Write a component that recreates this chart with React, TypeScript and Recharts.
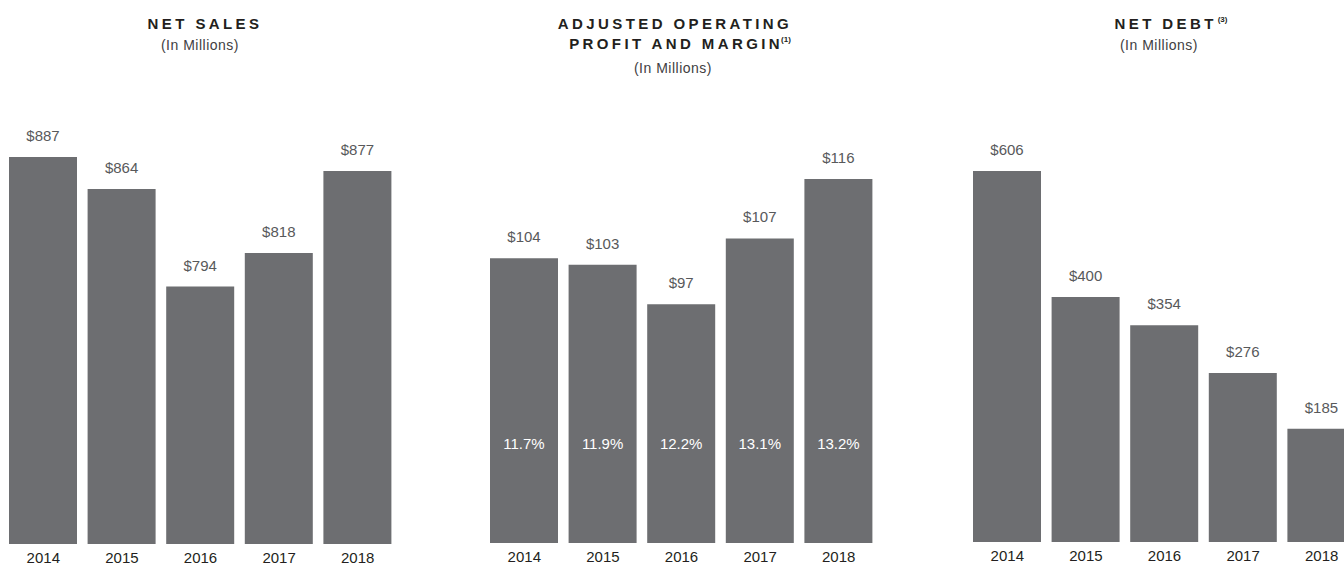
import { BarChart, Bar, XAxis, YAxis, LabelList } from 'recharts';

const years = ['2014', '2015', '2016', '2017', '2018'];
const netSales = [887, 864, 794, 818, 877];
const opProfit = [104, 103, 97, 107, 116];
const opMargin = ['11.7%', '11.9%', '12.2%', '13.1%', '13.2%'];
const netDebt = [606, 400, 354, 276, 185];

const FONT = '"Liberation Sans", Arial, Helvetica, sans-serif';
const BAR = '#6d6e71';
const INK = '#231f20';
const LABEL = '#58595b';

const salesData = years.map((year, i) => ({ year, value: netSales[i] }));
const profitData = years.map((year, i) => ({ year, value: opProfit[i], margin: opMargin[i] }));
const debtData = years.map((year, i) => ({ year, value: netDebt[i] }));

const titleStyle: React.CSSProperties = {
  position: 'absolute',
  fontFamily: FONT,
  fontWeight: 700,
  fontSize: 15,
  letterSpacing: 3.4,
  color: INK,
  textAlign: 'center',
  whiteSpace: 'nowrap',
  lineHeight: '19px',
};

const subStyle: React.CSSProperties = {
  position: 'absolute',
  fontFamily: FONT,
  fontSize: 14,
  letterSpacing: 0.5,
  color: '#414042',
  textAlign: 'center',
  whiteSpace: 'nowrap',
  lineHeight: '16px',
};

const supStyle: React.CSSProperties = {
  fontSize: 8,
  letterSpacing: 0,
  verticalAlign: 'top',
  lineHeight: '12px',
  marginLeft: -2,
};

// white margin % drawn inside the bar, a fixed distance above the baseline
const MarginLabel = (props: any) => {
  const { x, y, width, height, value } = props;
  return (
    <text
      x={x + width / 2}
      y={y + height - 94}
      textAnchor="middle"
      fill="#ffffff"
      fontSize={15}
      fontFamily={FONT}
    >
      {value}
    </text>
  );
};

interface PanelProps {
  data: { year: string; value: number; margin?: string }[];
  left: number;
  marginLeft: number;
  domain: [number, number];
  axisHeight: number;
  showMargin?: boolean;
}

function Panel({ data, left, marginLeft, domain, axisHeight, showMargin }: PanelProps) {
  return (
    <div style={{ position: 'absolute', left, top: 0 }}>
      <BarChart
        width={marginLeft + 393}
        height={567}
        data={data}
        margin={{ top: 100, right: 0, left: marginLeft, bottom: 0 }}
      >
        <XAxis
          dataKey="year"
          axisLine={false}
          tickLine={false}
          height={axisHeight}
          tickMargin={2}
          interval={0}
          tick={{ fontSize: 15, fill: INK, fontFamily: FONT }}
        />
        <YAxis hide type="number" domain={domain} allowDataOverflow />
        <Bar dataKey="value" fill={BAR} barSize={68} isAnimationActive={false}>
          <LabelList
            dataKey="value"
            position="top"
            offset={16}
            formatter={(v: any) => `$${v}`}
            fill={LABEL}
            fontSize={15}
            fontFamily={FONT}
          />
          {showMargin && <LabelList dataKey="margin" content={MarginLabel} />}
        </Bar>
      </BarChart>
    </div>
  );
}

export default function App() {
  return (
    <div
      style={{
        position: 'absolute',
        left: 0,
        top: 0,
        width: 1344,
        height: 567,
        overflow: 'hidden',
        background: '#ffffff',
      }}
    >
      <Panel data={salesData} left={0} marginLeft={4} domain={[609, 928]} axisHeight={23} />
      <Panel data={profitData} left={480} marginLeft={5} domain={[60.8, 128]} axisHeight={24} showMargin />
      <Panel data={debtData} left={963} marginLeft={5} domain={[0, 722]} axisHeight={25} />

      <div style={{ ...titleStyle, left: 105, width: 200, top: 14 }}>NET SALES</div>
      <div style={{ ...subStyle, left: 100, width: 200, top: 37 }}>(In Millions)</div>

      <div style={{ ...titleStyle, left: 525, width: 300, top: 14 }}>ADJUSTED OPERATING</div>
      <div style={{ ...titleStyle, left: 530, width: 300, top: 34 }}>
        PROFIT AND MARGIN<sup style={supStyle}>(1)</sup>
      </div>
      <div style={{ ...subStyle, left: 573, width: 200, top: 60 }}>(In Millions)</div>

      <div style={{ ...titleStyle, left: 1071, width: 200, top: 14 }}>
        NET DEBT<sup style={{ ...supStyle, marginLeft: 1 }}>(3)</sup>
      </div>
      <div style={{ ...subStyle, left: 1059, width: 200, top: 37 }}>(In Millions)</div>
    </div>
  );
}
